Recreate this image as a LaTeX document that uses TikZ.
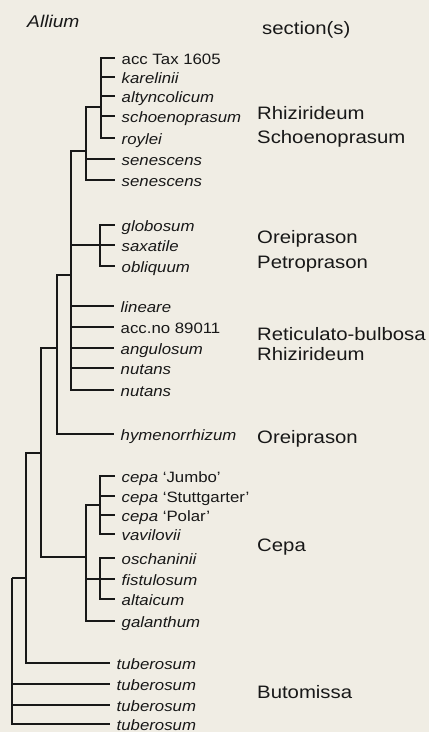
\documentclass[tikz,border=0pt]{standalone}
\usepackage{fontspec}
\setmainfont{Liberation Sans}
\newfontfamily\leaffont[FakeStretch=1.12,Ligatures=TeX]{Liberation Sans}
\newfontfamily\sectfont[FakeStretch=1.13,Ligatures=TeX]{Liberation Sans}
\definecolor{bg}{RGB}{240,237,228}
\definecolor{ink}{RGB}{24,24,24}
\begin{document}
\begin{tikzpicture}[x=1pt,y=-1pt,
  br/.style={line width=1.8pt,draw=ink,line join=miter},
  leaf/.style={anchor=west,inner xsep=6.5pt,inner ysep=0pt,text height=12pt,text depth=0pt,
    font=\leaffont\fontsize{15}{17}\selectfont,text=ink},
  sect/.style={anchor=base west,inner sep=0pt,font=\sectfont\fontsize{18}{21}\selectfont,text=ink}]
\fill[bg] (0,0) rectangle (429,732);
\useasboundingbox (0,0) rectangle (429,732);

% headings
\node[sect,font=\sectfont\fontsize{17}{20}\selectfont\itshape] (hAllium) at (27,27) {Allium};
\node[sect] (hsect) at (262,34) {section(s)};

% leaves
\node[leaf] (l1) at (115,58) {acc Tax 1605};
\node[leaf] (l2) at (115,77) {\textit{karelinii}};
\node[leaf] (l3) at (115,96) {\textit{altyncolicum}};
\node[leaf] (l4) at (115,116) {\textit{schoenoprasum}};
\node[leaf] (l5) at (115,138) {\textit{roylei}};
\node[leaf] (l6) at (115,159) {\textit{senescens}};
\node[leaf] (l7) at (115,180) {\textit{senescens}};
\node[leaf] (l8) at (115,225) {\textit{globosum}};
\node[leaf] (l9) at (115,245) {\textit{saxatile}};
\node[leaf] (l10) at (115,266) {\textit{obliquum}};
\node[leaf] (l11) at (114,306) {\textit{lineare}};
\node[leaf] (l12) at (114,327) {acc.no 89011};
\node[leaf] (l13) at (114,348) {\textit{angulosum}};
\node[leaf] (l14) at (114,368) {\textit{nutans}};
\node[leaf] (l15) at (114,390) {\textit{nutans}};
\node[leaf] (l16) at (114,434) {\textit{hymenorrhizum}};
\node[leaf] (l17) at (115,476) {\textit{cepa} ‘Jumbo’};
\node[leaf] (l18) at (115,496) {\textit{cepa} ‘Stuttgarter’};
\node[leaf] (l19) at (115,515) {\textit{cepa} ‘Polar’};
\node[leaf] (l20) at (115,534) {\textit{vavilovii}};
\node[leaf] (l21) at (115,558) {\textit{oschaninii}};
\node[leaf] (l22) at (115,579) {\textit{fistulosum}};
\node[leaf] (l23) at (115,599) {\textit{altaicum}};
\node[leaf] (l24) at (115,621) {\textit{galanthum}};
\node[leaf] (l25) at (110,663) {\textit{tuberosum}};
\node[leaf] (l26) at (110,684) {\textit{tuberosum}};
\node[leaf] (l27) at (110,705) {\textit{tuberosum}};
\node[leaf] (l28) at (110,724) {\textit{tuberosum}};

% internal nodes
\coordinate (R) at (101,107);
\coordinate (S) at (86,151);
\coordinate (G) at (100,245);
\coordinate (A) at (71,275);
\coordinate (B) at (57,348);
\coordinate (C1) at (100,505);
\coordinate (C2) at (100,579);
\coordinate (C) at (86,557);
\coordinate (D) at (41,453);
\coordinate (E) at (26,578);
\coordinate (F) at (12,578);

% branches
\foreach \c in {l1,l2,l3,l4,l5} \draw[br] (R) |- (\c.west);
\draw[br] (S) |- (R);
\foreach \c in {l6,l7} \draw[br] (S) |- (\c.west);
\foreach \c in {l8,l9,l10} \draw[br] (G) |- (\c.west);
\draw[br] (A) |- (S);
\draw[br] (A) |- (G);
\foreach \c in {l11,l12,l13,l14,l15} \draw[br] (A) |- (\c.west);
\draw[br] (B) |- (A);
\draw[br] (B) |- (l16.west);
\foreach \c in {l17,l18,l19,l20} \draw[br] (C1) |- (\c.west);
\foreach \c in {l21,l22,l23} \draw[br] (C2) |- (\c.west);
\draw[br] (C) |- (C1);
\draw[br] (C) |- (C2);
\draw[br] (C) |- (l24.west);
\draw[br] (D) |- (B);
\draw[br] (D) |- (C);
\draw[br] (E) |- (D);
\draw[br] (E) |- (l25.west);
\draw[br] (F) |- (E);
\foreach \c in {l26,l27,l28} \draw[br] (F) |- (\c.west);

% sections
\node[sect] (s1) at (257,119) {Rhizirideum};
\node[sect] (s2) at (257,143) {Schoenoprasum};
\node[sect] (s3) at (257,243) {Oreiprason};
\node[sect] (s4) at (257,268) {Petroprason};
\node[sect] (s5) at (257,340) {Reticulato-bulbosa};
\node[sect] (s6) at (257,360) {Rhizirideum};
\node[sect] (s7) at (257,443) {Oreiprason};
\node[sect] (s8) at (257,551) {Cepa};
\node[sect] (s9) at (257,698) {Butomissa};
\end{tikzpicture}
\end{document}
